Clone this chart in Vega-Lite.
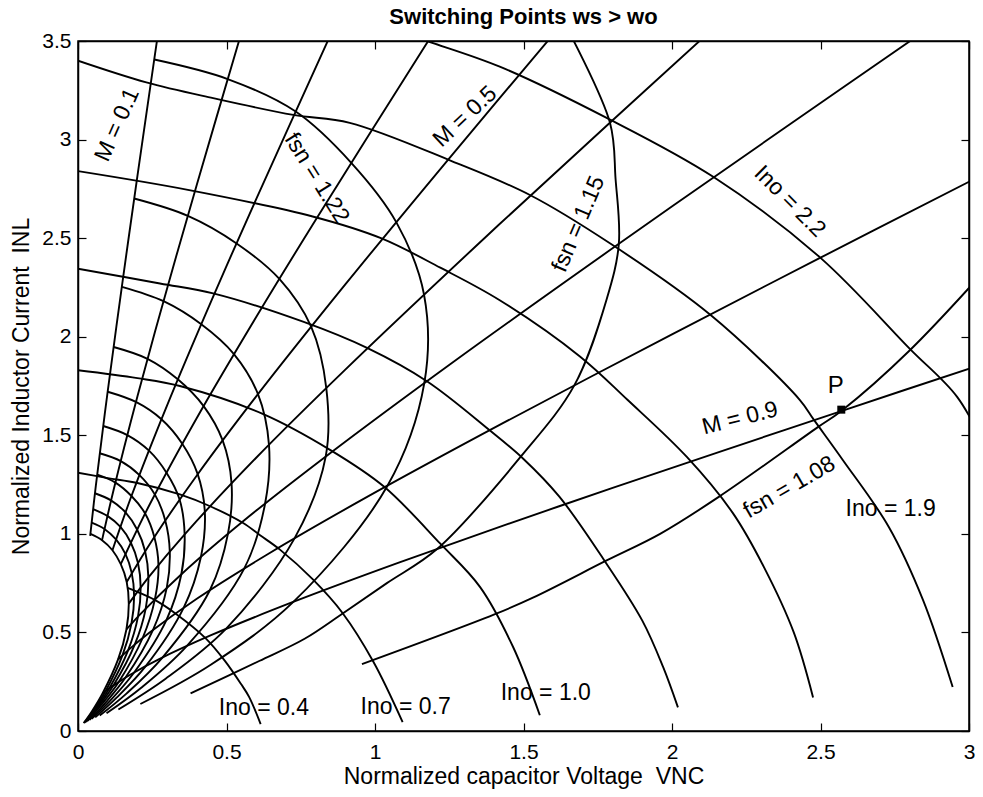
{
"$schema":"https://vega.github.io/schema/vega-lite/v6.json",
"width":891,"height":690,
"autosize":{"type":"none"},
"padding":{"left":78,"top":41,"right":14,"bottom":66},
"background":"white",
"title":{"text":"Switching Points ws > wo","fontSize":22,"fontWeight":"bold","font":"Liberation Sans","color":"black","anchor":"middle","offset":1},
"config":{"font":"Liberation Sans","view":{"stroke":"black","strokeWidth":1.5},"text":{"font":"Liberation Sans","fontSize":23,"color":"black","align":"center","baseline":"middle"}},
"datasets":{"curves":[
{"c":"M1","o":0,"x":0.041,"y":0.99},{"c":"M1","o":1,"x":0.06,"y":1.243},{"c":"M1","o":2,"x":0.1,"y":1.723},{"c":"M1","o":3,"x":0.15,"y":2.28},{"c":"M1","o":4,"x":0.2,"y":2.814},{"c":"M1","o":5,"x":0.26,"y":3.441},{"c":"M1","o":6,"x":0.27,"y":3.544},
{"c":"M2","o":0,"x":0.081,"y":0.968},{"c":"M2","o":1,"x":0.12,"y":1.224},{"c":"M2","o":2,"x":0.2,"y":1.697},{"c":"M2","o":3,"x":0.3,"y":2.245},{"c":"M2","o":4,"x":0.4,"y":2.771},{"c":"M2","o":5,"x":0.55,"y":3.541},
{"c":"M3","o":0,"x":0.116,"y":0.917},{"c":"M3","o":1,"x":0.18,"y":1.192},{"c":"M3","o":2,"x":0.3,"y":1.652},{"c":"M3","o":3,"x":0.45,"y":2.186},{"c":"M3","o":4,"x":0.6,"y":2.698},{"c":"M3","o":5,"x":0.855,"y":3.547},
{"c":"M4","o":0,"x":0.144,"y":0.846},{"c":"M4","o":1,"x":0.24,"y":1.145},{"c":"M4","o":2,"x":0.4,"y":1.588},{"c":"M4","o":3,"x":0.6,"y":2.1},{"c":"M4","o":4,"x":0.8,"y":2.592},{"c":"M4","o":5,"x":1.2,"y":3.55},
{"c":"M5","o":0,"x":0.164,"y":0.756},{"c":"M5","o":1,"x":0.25,"y":0.968},{"c":"M5","o":2,"x":0.4,"y":1.296},{"c":"M5","o":3,"x":0.6,"y":1.697},{"c":"M5","o":4,"x":0.9,"y":2.265},{"c":"M5","o":5,"x":1.25,"y":2.905},{"c":"M5","o":6,"x":1.6,"y":3.533},
{"c":"M6","o":0,"x":0.171,"y":0.646},{"c":"M6","o":1,"x":0.24,"y":0.784},{"c":"M6","o":2,"x":0.36,"y":0.999},{"c":"M6","o":3,"x":0.6,"y":1.386},{"c":"M6","o":4,"x":0.9,"y":1.833},{"c":"M6","o":5,"x":1.38,"y":2.516},{"c":"M6","o":6,"x":1.8,"y":3.098},{"c":"M6","o":7,"x":2.1,"y":3.51},
{"c":"M7","o":0,"x":0.163,"y":0.515},{"c":"M7","o":1,"x":0.21,"y":0.593},{"c":"M7","o":2,"x":0.35,"y":0.798},{"c":"M7","o":3,"x":0.56,"y":1.069},{"c":"M7","o":4,"x":0.84,"y":1.399},{"c":"M7","o":5,"x":1.26,"y":1.868},{"c":"M7","o":6,"x":1.82,"y":2.47},{"c":"M7","o":7,"x":2.38,"y":3.06},{"c":"M7","o":8,"x":2.87,"y":3.571},
{"c":"M8","o":0,"x":0.135,"y":0.363},{"c":"M8","o":1,"x":0.176,"y":0.419},{"c":"M8","o":2,"x":0.24,"y":0.498},{"c":"M8","o":3,"x":0.4,"y":0.671},{"c":"M8","o":4,"x":0.64,"y":0.898},{"c":"M8","o":5,"x":0.96,"y":1.176},{"c":"M8","o":6,"x":1.44,"y":1.569},{"c":"M8","o":7,"x":2.0,"y":2.012},{"c":"M8","o":8,"x":2.5,"y":2.401},{"c":"M8","o":9,"x":3.0,"y":2.786},{"c":"M8","o":10,"x":3.12,"y":2.878},
{"c":"M9","o":0,"x":0.083,"y":0.192},{"c":"M9","o":1,"x":0.117,"y":0.229},{"c":"M9","o":2,"x":0.18,"y":0.289},{"c":"M9","o":3,"x":0.27,"y":0.362},{"c":"M9","o":4,"x":0.45,"y":0.487},{"c":"M9","o":5,"x":0.72,"y":0.652},{"c":"M9","o":6,"x":1.08,"y":0.854},{"c":"M9","o":7,"x":1.62,"y":1.14},{"c":"M9","o":8,"x":2.16,"y":1.416},{"c":"M9","o":9,"x":2.57,"y":1.623},{"c":"M9","o":10,"x":3.06,"y":1.868},
{"c":"F199","o":0,"x":0.042,"y":1.0},{"c":"F199","o":1,"x":0.081,"y":0.968},{"c":"F199","o":2,"x":0.116,"y":0.917},{"c":"F199","o":3,"x":0.144,"y":0.846},{"c":"F199","o":4,"x":0.164,"y":0.756},{"c":"F199","o":5,"x":0.171,"y":0.646},{"c":"F199","o":6,"x":0.163,"y":0.515},{"c":"F199","o":7,"x":0.135,"y":0.363},{"c":"F199","o":8,"x":0.083,"y":0.192},{"c":"F199","o":9,"x":0.046,"y":0.098},{"c":"F199","o":10,"x":0.019,"y":0.04},
{"c":"F192","o":0,"x":0.046,"y":1.057},{"c":"F192","o":1,"x":0.089,"y":1.025},{"c":"F192","o":2,"x":0.128,"y":0.972},{"c":"F192","o":3,"x":0.16,"y":0.897},{"c":"F192","o":4,"x":0.181,"y":0.801},{"c":"F192","o":5,"x":0.189,"y":0.683},{"c":"F192","o":6,"x":0.18,"y":0.545},{"c":"F192","o":7,"x":0.15,"y":0.385},{"c":"F192","o":8,"x":0.093,"y":0.203},{"c":"F192","o":9,"x":0.052,"y":0.104},{"c":"F192","o":10,"x":0.022,"y":0.042},
{"c":"F185","o":0,"x":0.051,"y":1.126},{"c":"F185","o":1,"x":0.099,"y":1.091},{"c":"F185","o":2,"x":0.143,"y":1.035},{"c":"F185","o":3,"x":0.178,"y":0.955},{"c":"F185","o":4,"x":0.202,"y":0.852},{"c":"F185","o":5,"x":0.211,"y":0.727},{"c":"F185","o":6,"x":0.202,"y":0.58},{"c":"F185","o":7,"x":0.169,"y":0.41},{"c":"F185","o":8,"x":0.105,"y":0.216},{"c":"F185","o":9,"x":0.058,"y":0.111},{"c":"F185","o":10,"x":0.025,"y":0.045},
{"c":"F178","o":0,"x":0.057,"y":1.206},{"c":"F178","o":1,"x":0.111,"y":1.17},{"c":"F178","o":2,"x":0.16,"y":1.109},{"c":"F178","o":3,"x":0.199,"y":1.022},{"c":"F178","o":4,"x":0.226,"y":0.912},{"c":"F178","o":5,"x":0.237,"y":0.778},{"c":"F178","o":6,"x":0.228,"y":0.621},{"c":"F178","o":7,"x":0.191,"y":0.438},{"c":"F178","o":8,"x":0.119,"y":0.231},{"c":"F178","o":9,"x":0.066,"y":0.119},{"c":"F178","o":10,"x":0.028,"y":0.048},
{"c":"F171","o":0,"x":0.065,"y":1.3},{"c":"F171","o":1,"x":0.126,"y":1.26},{"c":"F171","o":2,"x":0.18,"y":1.192},{"c":"F171","o":3,"x":0.226,"y":1.103},{"c":"F171","o":4,"x":0.257,"y":0.984},{"c":"F171","o":5,"x":0.271,"y":0.841},{"c":"F171","o":6,"x":0.259,"y":0.669},{"c":"F171","o":7,"x":0.218,"y":0.473},{"c":"F171","o":8,"x":0.137,"y":0.249},{"c":"F171","o":9,"x":0.076,"y":0.128},{"c":"F171","o":10,"x":0.033,"y":0.052},
{"c":"F164","o":0,"x":0.073,"y":1.409},{"c":"F164","o":1,"x":0.144,"y":1.369},{"c":"F164","o":2,"x":0.207,"y":1.298},{"c":"F164","o":3,"x":0.259,"y":1.199},{"c":"F164","o":4,"x":0.294,"y":1.067},{"c":"F164","o":5,"x":0.309,"y":0.911},{"c":"F164","o":6,"x":0.299,"y":0.727},{"c":"F164","o":7,"x":0.253,"y":0.514},{"c":"F164","o":8,"x":0.16,"y":0.271},{"c":"F164","o":9,"x":0.09,"y":0.139},{"c":"F164","o":10,"x":0.039,"y":0.056},
{"c":"F157","o":0,"x":0.085,"y":1.547},{"c":"F157","o":1,"x":0.166,"y":1.501},{"c":"F157","o":2,"x":0.239,"y":1.422},{"c":"F157","o":3,"x":0.298,"y":1.31},{"c":"F157","o":4,"x":0.342,"y":1.174},{"c":"F157","o":5,"x":0.359,"y":0.998},{"c":"F157","o":6,"x":0.348,"y":0.795},{"c":"F157","o":7,"x":0.298,"y":0.564},{"c":"F157","o":8,"x":0.189,"y":0.297},{"c":"F157","o":9,"x":0.107,"y":0.152},{"c":"F157","o":10,"x":0.046,"y":0.062},
{"c":"F150","o":0,"x":0.1,"y":1.721},{"c":"F150","o":1,"x":0.195,"y":1.669},{"c":"F150","o":2,"x":0.281,"y":1.581},{"c":"F150","o":3,"x":0.351,"y":1.457},{"c":"F150","o":4,"x":0.403,"y":1.303},{"c":"F150","o":5,"x":0.427,"y":1.112},{"c":"F150","o":6,"x":0.414,"y":0.884},{"c":"F150","o":7,"x":0.356,"y":0.626},{"c":"F150","o":8,"x":0.228,"y":0.329},{"c":"F150","o":9,"x":0.13,"y":0.169},{"c":"F150","o":10,"x":0.058,"y":0.069},
{"c":"F143","o":0,"x":0.12,"y":1.948},{"c":"F143","o":1,"x":0.234,"y":1.888},{"c":"F143","o":2,"x":0.336,"y":1.784},{"c":"F143","o":3,"x":0.423,"y":1.648},{"c":"F143","o":4,"x":0.487,"y":1.474},{"c":"F143","o":5,"x":0.517,"y":1.256},{"c":"F143","o":6,"x":0.505,"y":1.001},{"c":"F143","o":7,"x":0.444,"y":0.714},{"c":"F143","o":8,"x":0.285,"y":0.374},{"c":"F143","o":9,"x":0.164,"y":0.191},{"c":"F143","o":10,"x":0.073,"y":0.078},
{"c":"F136","o":0,"x":0.148,"y":2.253},{"c":"F136","o":1,"x":0.288,"y":2.18},{"c":"F136","o":2,"x":0.415,"y":2.063},{"c":"F136","o":3,"x":0.525,"y":1.912},{"c":"F136","o":4,"x":0.606,"y":1.709},{"c":"F136","o":5,"x":0.643,"y":1.452},{"c":"F136","o":6,"x":0.63,"y":1.154},{"c":"F136","o":7,"x":0.56,"y":0.825},{"c":"F136","o":8,"x":0.366,"y":0.431},{"c":"F136","o":9,"x":0.214,"y":0.221},{"c":"F136","o":10,"x":0.096,"y":0.09},
{"c":"F129","o":0,"x":0.189,"y":2.701},{"c":"F129","o":1,"x":0.37,"y":2.613},{"c":"F129","o":2,"x":0.534,"y":2.473},{"c":"F129","o":3,"x":0.678,"y":2.293},{"c":"F129","o":4,"x":0.785,"y":2.051},{"c":"F129","o":5,"x":0.836,"y":1.739},{"c":"F129","o":6,"x":0.834,"y":1.392},{"c":"F129","o":7,"x":0.729,"y":0.977},{"c":"F129","o":8,"x":0.499,"y":0.519},{"c":"F129","o":9,"x":0.295,"y":0.265},{"c":"F129","o":10,"x":0.136,"y":0.109},
{"c":"F122","o":0,"x":0.257,"y":3.406},{"c":"F122","o":1,"x":0.504,"y":3.307},{"c":"F122","o":2,"x":0.733,"y":3.142},{"c":"F122","o":3,"x":0.92,"y":2.882},{"c":"F122","o":4,"x":1.072,"y":2.58},{"c":"F122","o":5,"x":1.165,"y":2.214},{"c":"F122","o":6,"x":1.166,"y":1.765},{"c":"F122","o":7,"x":1.042,"y":1.244},{"c":"F122","o":8,"x":0.726,"y":0.656},{"c":"F122","o":9,"x":0.447,"y":0.336},{"c":"F122","o":10,"x":0.21,"y":0.137},
{"c":"F115","o":0,"x":1.636,"y":3.596},{"c":"F115","o":1,"x":1.791,"y":3.086},{"c":"F115","o":2,"x":1.81,"y":2.8},{"c":"F115","o":3,"x":1.821,"y":2.471},{"c":"F115","o":4,"x":1.78,"y":2.19},{"c":"F115","o":5,"x":1.671,"y":1.753},{"c":"F115","o":6,"x":1.49,"y":1.39},{"c":"F115","o":7,"x":1.21,"y":0.924},{"c":"F115","o":8,"x":1.04,"y":0.75},{"c":"F115","o":9,"x":0.89,"y":0.595},{"c":"F115","o":10,"x":0.763,"y":0.468},{"c":"F115","o":11,"x":0.61,"y":0.355},{"c":"F115","o":12,"x":0.379,"y":0.191},
{"c":"F108","o":0,"x":3.08,"y":2.38},{"c":"F108","o":1,"x":2.8,"y":1.93},{"c":"F108","o":2,"x":2.57,"y":1.623},{"c":"F108","o":3,"x":2.49,"y":1.54},{"c":"F108","o":4,"x":2.16,"y":1.19},{"c":"F108","o":5,"x":1.96,"y":1.0},{"c":"F108","o":6,"x":1.78,"y":0.865},{"c":"F108","o":7,"x":1.53,"y":0.675},{"c":"F108","o":8,"x":1.4,"y":0.59},{"c":"F108","o":9,"x":0.956,"y":0.339},
{"c":"I04","o":0,"x":0.167,"y":0.726},{"c":"I04","o":1,"x":0.2,"y":0.706},{"c":"I04","o":2,"x":0.257,"y":0.666},{"c":"I04","o":3,"x":0.328,"y":0.596},{"c":"I04","o":4,"x":0.43,"y":0.47},{"c":"I04","o":5,"x":0.494,"y":0.357},{"c":"I04","o":6,"x":0.549,"y":0.238},{"c":"I04","o":7,"x":0.576,"y":0.173},{"c":"I04","o":8,"x":0.615,"y":0.035},
{"c":"I07","o":0,"x":0.0,"y":1.31},{"c":"I07","o":1,"x":0.1,"y":1.283},{"c":"I07","o":2,"x":0.2,"y":1.258},{"c":"I07","o":3,"x":0.343,"y":1.2},{"c":"I07","o":4,"x":0.445,"y":1.14},{"c":"I07","o":5,"x":0.556,"y":1.055},{"c":"I07","o":6,"x":0.613,"y":0.993},{"c":"I07","o":7,"x":0.68,"y":0.92},{"c":"I07","o":8,"x":0.79,"y":0.77},{"c":"I07","o":9,"x":0.89,"y":0.6},{"c":"I07","o":10,"x":0.995,"y":0.35},{"c":"I07","o":11,"x":1.093,"y":0.045},
{"c":"I10","o":0,"x":0.0,"y":1.83},{"c":"I10","o":1,"x":0.2,"y":1.79},{"c":"I10","o":2,"x":0.343,"y":1.75},{"c":"I10","o":3,"x":0.62,"y":1.61},{"c":"I10","o":4,"x":0.85,"y":1.425},{"c":"I10","o":5,"x":1.03,"y":1.24},{"c":"I10","o":6,"x":1.22,"y":0.95},{"c":"I10","o":7,"x":1.354,"y":0.73},{"c":"I10","o":8,"x":1.465,"y":0.426},{"c":"I10","o":9,"x":1.555,"y":0.08},
{"c":"I13","o":0,"x":0.0,"y":2.345},{"c":"I13","o":1,"x":0.276,"y":2.27},{"c":"I13","o":2,"x":0.455,"y":2.22},{"c":"I13","o":3,"x":0.76,"y":2.075},{"c":"I13","o":4,"x":0.975,"y":1.942},{"c":"I13","o":5,"x":1.176,"y":1.773},{"c":"I13","o":6,"x":1.384,"y":1.528},{"c":"I13","o":7,"x":1.5,"y":1.38},{"c":"I13","o":8,"x":1.62,"y":1.19},{"c":"I13","o":9,"x":1.77,"y":0.87},{"c":"I13","o":10,"x":1.9,"y":0.56},{"c":"I13","o":11,"x":1.97,"y":0.325},{"c":"I13","o":12,"x":2.02,"y":0.12},
{"c":"I16","o":0,"x":0.0,"y":2.84},{"c":"I16","o":1,"x":0.37,"y":2.745},{"c":"I16","o":2,"x":0.79,"y":2.61},{"c":"I16","o":3,"x":1.02,"y":2.5},{"c":"I16","o":4,"x":1.22,"y":2.35},{"c":"I16","o":5,"x":1.42,"y":2.185},{"c":"I16","o":6,"x":1.69,"y":1.9},{"c":"I16","o":7,"x":1.85,"y":1.68},{"c":"I16","o":8,"x":2.05,"y":1.39},{"c":"I16","o":9,"x":2.205,"y":1.105},{"c":"I16","o":10,"x":2.31,"y":0.83},{"c":"I16","o":11,"x":2.41,"y":0.5},{"c":"I16","o":12,"x":2.475,"y":0.17},
{"c":"I19","o":0,"x":0.0,"y":3.4},{"c":"I19","o":1,"x":0.23,"y":3.29},{"c":"I19","o":2,"x":0.455,"y":3.21},{"c":"I19","o":3,"x":0.725,"y":3.125},{"c":"I19","o":4,"x":0.915,"y":3.085},{"c":"I19","o":5,"x":1.26,"y":2.89},{"c":"I19","o":6,"x":1.52,"y":2.72},{"c":"I19","o":7,"x":1.8,"y":2.465},{"c":"I19","o":8,"x":2.13,"y":2.11},{"c":"I19","o":9,"x":2.43,"y":1.68},{"c":"I19","o":10,"x":2.478,"y":1.578},{"c":"I19","o":11,"x":2.575,"y":1.375},{"c":"I19","o":12,"x":2.73,"y":1.035},{"c":"I19","o":13,"x":2.845,"y":0.665},{"c":"I19","o":14,"x":2.945,"y":0.223},
{"c":"I22","o":0,"x":1.0,"y":3.59},{"c":"I22","o":1,"x":1.175,"y":3.5},{"c":"I22","o":2,"x":1.42,"y":3.37},{"c":"I22","o":3,"x":1.78,"y":3.11},{"c":"I22","o":4,"x":2.14,"y":2.81},{"c":"I22","o":5,"x":2.5,"y":2.4},{"c":"I22","o":6,"x":2.8,"y":1.94},{"c":"I22","o":7,"x":2.96,"y":1.695},{"c":"I22","o":8,"x":3.05,"y":1.45}
]},
"layer":[
{"data":{"name":"curves"},
 "mark":{"type":"line","color":"black","strokeWidth":1.9,"interpolate":"catmull-rom","clip":true},
 "encoding":{
  "x":{"field":"x","type":"quantitative","scale":{"domain":[0,3],"nice":false,"zero":false},
   "axis":{"orient":"bottom","values":[0,0.5,1,1.5,2,2.5,3],"format":"~g","grid":false,"tickSize":-8,"tickWidth":1.2,"tickColor":"black","domainColor":"black","domainWidth":1.5,"labelFont":"Liberation Sans","labelFontSize":21,"labelColor":"black","labelBaseline":"alphabetic","labelPadding":35,"labelFlush":false,"labelOverlap":false,"labelBound":false,"title":"Normalized capacitor Voltage \u00a0VNC","titleFont":"Liberation Sans","titleFontSize":23,"titleFontWeight":"normal","titleColor":"black","titleBaseline":"alphabetic","titleY":52}},
  "y":{"field":"y","type":"quantitative","scale":{"domain":[0,3.5],"nice":false,"zero":false},
   "axis":{"orient":"left","values":[0,0.5,1,1.5,2,2.5,3,3.5],"format":"~g","grid":false,"tickSize":-8,"tickWidth":1.2,"tickColor":"black","domainColor":"black","domainWidth":1.5,"labelFont":"Liberation Sans","labelFontSize":21,"labelColor":"black","labelBaseline":"middle","labelAlign":"right","labelPadding":15,"labelFlush":false,"labelOverlap":false,"labelBound":false,"title":"Normalized Inductor Current \u00a0INL","titleFont":"Liberation Sans","titleFontSize":23,"titleFontWeight":"normal","titleColor":"black","titleAngle":270,"titleBaseline":"alphabetic","titleAlign":"center","titleX":-50,"titleY":345}},
  "detail":{"field":"c","type":"nominal"},
  "order":{"field":"o","type":"quantitative"}}},
{"data":{"values":[{"x":2.57,"y":1.63}]},
 "mark":{"type":"square","filled":true,"color":"black","size":64,"opacity":1},
 "encoding":{
  "x":{"field":"x","type":"quantitative","axis":{"orient":"top","values":[0,0.5,1,1.5,2,2.5,3],"labels":false,"grid":false,"tickSize":-8,"tickWidth":1.2,"tickColor":"black","domainColor":"black","domainWidth":1.5,"title":null}},
  "y":{"field":"y","type":"quantitative","axis":{"orient":"right","values":[0,0.5,1,1.5,2,2.5,3,3.5],"labels":false,"grid":false,"tickSize":-8,"tickWidth":1.2,"tickColor":"black","domainColor":"black","domainWidth":1.5,"title":null}}}},
{"data":{"values":[{"x":0.132,"y":3.075,"t":"M = 0.1"}]},"mark":{"type":"text","angle":-66},
 "encoding":{"x":{"field":"x","type":"quantitative","axis":null},"y":{"field":"y","type":"quantitative","axis":null},"text":{"field":"t"}}},
{"data":{"values":[{"x":1.303,"y":3.117,"t":"M = 0.5"}]},"mark":{"type":"text","angle":-43},
 "encoding":{"x":{"field":"x","type":"quantitative","axis":null},"y":{"field":"y","type":"quantitative","axis":null},"text":{"field":"t"}}},
{"data":{"values":[{"x":0.804,"y":2.804,"t":"fsn = 1.22"}]},"mark":{"type":"text","angle":58},
 "encoding":{"x":{"field":"x","type":"quantitative","axis":null},"y":{"field":"y","type":"quantitative","axis":null},"text":{"field":"t"}}},
{"data":{"values":[{"x":1.685,"y":2.572,"t":"fsn = 1.15"}]},"mark":{"type":"text","angle":-67},
 "encoding":{"x":{"field":"x","type":"quantitative","axis":null},"y":{"field":"y","type":"quantitative","axis":null},"text":{"field":"t"}}},
{"data":{"values":[{"x":2.397,"y":2.686,"t":"Ino = 2.2"}]},"mark":{"type":"text","angle":45},
 "encoding":{"x":{"field":"x","type":"quantitative","axis":null},"y":{"field":"y","type":"quantitative","axis":null},"text":{"field":"t"}}},
{"data":{"values":[{"x":2.229,"y":1.586,"t":"M = 0.9"}]},"mark":{"type":"text","angle":-14},
 "encoding":{"x":{"field":"x","type":"quantitative","axis":null},"y":{"field":"y","type":"quantitative","axis":null},"text":{"field":"t"}}},
{"data":{"values":[{"x":2.395,"y":1.236,"t":"fsn = 1.08"}]},"mark":{"type":"text","angle":-30},
 "encoding":{"x":{"field":"x","type":"quantitative","axis":null},"y":{"field":"y","type":"quantitative","axis":null},"text":{"field":"t"}}},
{"data":{"values":[{"x":2.736,"y":1.125,"t":"Ino = 1.9"},{"x":1.575,"y":0.194,"t":"Ino = 1.0"},{"x":1.103,"y":0.123,"t":"Ino = 0.7"},{"x":0.626,"y":0.115,"t":"Ino = 0.4"}]},"mark":{"type":"text"},
 "encoding":{"x":{"field":"x","type":"quantitative","axis":null},"y":{"field":"y","type":"quantitative","axis":null},"text":{"field":"t"}}},
{"data":{"values":[{"x":2.551,"y":1.752,"t":"P"}]},"mark":{"type":"text","fontSize":24},
 "encoding":{"x":{"field":"x","type":"quantitative","axis":null},"y":{"field":"y","type":"quantitative","axis":null},"text":{"field":"t"}}}
],
"resolve":{"axis":{"x":"independent","y":"independent"}}
}
